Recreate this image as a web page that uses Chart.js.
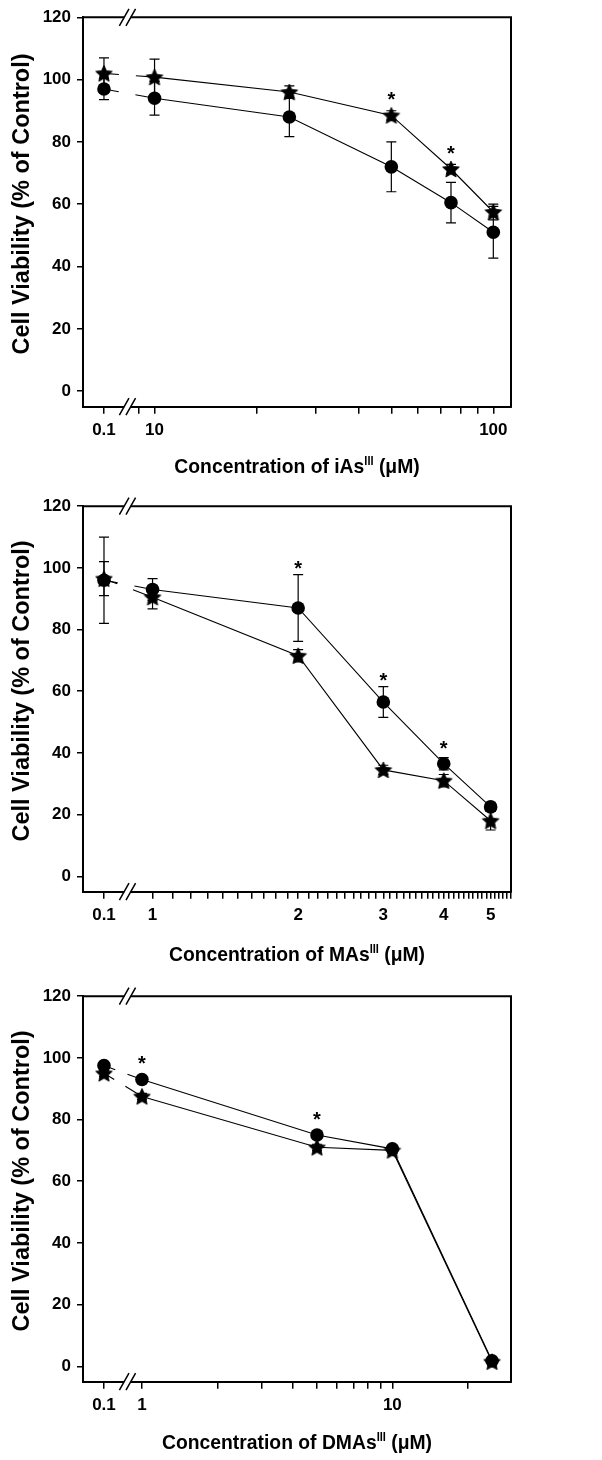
<!DOCTYPE html>
<html><head><meta charset="utf-8">
<script src="https://cdn.jsdelivr.net/npm/chart.js@4.4.0/dist/chart.umd.min.js"></script>
<style>
html,body{margin:0;padding:0;background:#fff;}
#wrap{position:relative;width:602px;height:1460px;overflow:hidden;background:#fff;}
canvas{position:absolute;left:0;}
</style></head><body>
<div id="wrap">
<canvas id="c1" width="602" height="490" style="top:0;width:602px;height:490px"></canvas>
<canvas id="c2" width="602" height="490" style="top:490px;width:602px;height:490px"></canvas>
<canvas id="c3" width="602" height="480" style="top:980px;width:602px;height:480px"></canvas>
</div>
<script>
// ---------------- DATA ----------------
// Panel A: iAs(III)
const iAsConc       = [0.1, 10, 25, 50, 75, 100];
const iAsCircle     = [97, 94, 88, 72, 60.5, 51];
const iAsCircleErr  = [3.4, 5.4, 6.3, 8, 6.5, 8.3];
const iAsStar       = [102, 100.8, 96, 88.5, 71.3, 57.5];
const iAsStarErr    = [5, 5.8, 2, 1.5, 1.5, 2.5];
const iAsSignificant = [3, 4];
const iAsTickValues = [0.1, 9, 10, 20, 30, 40, 50, 60, 70, 80, 90, 100];
const iAsTickLabels = ['0.1', '', '10', '', '', '', '', '', '', '', '', '100'];

// Panel B: MAs(III)
const MAsConc       = [0.1, 1, 2, 3, 4, 5];
const MAsCircle     = [96, 93, 87, 56.5, 36.5, 22.5];
const MAsCircleErr  = [14, 3.5, 10.8, 5, 2, 1.5];
const MAsStar       = [96.5, 90.5, 71.5, 34.5, 31, 18];
const MAsStarErr    = [5.5, 3.8, 2, 1.5, 2, 3];
const MAsSignificant = [2, 3, 4];
const MAsTickValues = [0.1, 1, 1.1, 1.2, 1.3, 1.4, 1.5, 1.6, 1.7, 1.8, 1.9,
  2, 2.1, 2.2, 2.3, 2.4, 2.5, 2.6, 2.7, 2.8, 2.9,
  3, 3.1, 3.2, 3.3, 3.4, 3.5, 3.6, 3.7, 3.8, 3.9,
  4, 4.1, 4.2, 4.3, 4.4, 4.5, 4.6, 4.7, 4.8, 4.9,
  5, 5.1, 5.2, 5.3, 5.4, 5.5];
const MAsTickLabels = ['0.1', '1', '', '', '', '', '', '', '', '', '',
  '2', '', '', '', '', '', '', '', '', '',
  '3', '', '', '', '', '', '', '', '', '',
  '4', '', '', '', '', '', '', '', '', '',
  '5', '', '', '', '', ''];

// Panel C: DMAs(III)
const DMAsConc      = [0.1, 1, 5, 10, 25];
const DMAsCircle    = [97.5, 93, 75, 70.5, 1.8];
const DMAsCircleErr = [1, 1, 1, 1, 1];
const DMAsStar      = [95, 87.5, 71, 70, 1.5];
const DMAsStarErr   = [1, 1, 1, 1, 1];
const DMAsSignificant = [1, 2];
const DMAsTickValues = [0.1, 1, 2, 3, 4, 5, 6, 7, 8, 9, 10, 20];
const DMAsTickLabels = ['0.1', '1', '', '', '', '', '', '', '', '', '10', ''];

const yTickValues = [0, 20, 40, 60, 80, 100, 120];
const yTitle = 'Cell Viability (% of Control)';

// ---------------- STYLE ----------------
const FONT = '"Liberation Sans", Arial, Helvetica, sans-serif';

function starImage(r) {
  const size = Math.ceil(2 * r + 2);
  const c = document.createElement('canvas');
  c.width = size; c.height = size;
  const g = c.getContext('2d');
  const cx = size / 2, cy = size / 2 + r * 0.09;
  g.beginPath();
  for (let k = 0; k < 10; k++) {
    const rr = k % 2 === 0 ? r : r * 0.48;
    const a = -Math.PI / 2 + k * Math.PI / 5;
    const px = cx + rr * Math.cos(a), py = cy + rr * Math.sin(a);
    if (k === 0) g.moveTo(px, py); else g.lineTo(px, py);
  }
  g.closePath();
  g.fillStyle = '#000';
  g.fill();
  g.strokeStyle = '#000';
  g.lineWidth = 0.8;
  g.stroke();
  return c;
}
const STAR = starImage(8.8);

// ---------------- CUSTOM BROKEN LOG SCALE ----------------
class BrokenLogScale extends Chart.Scale {
  determineDataLimits() {
    this.min = this.options.tMin;
    this.max = this.options.tMax;
  }
  buildTicks() {
    return this.options.tickValues.map(v => ({ value: v }));
  }
  transformValue(v) {
    const o = this.options;
    return v <= o.controlValue ? o.controlPos : Math.log10(v);
  }
  getPixelForValue(v) {
    if (v === null || v === undefined || isNaN(v)) return NaN;
    return this.getPixelForDecimal((this.transformValue(v) - this.min) / (this.max - this.min));
  }
  getValueForPixel(p) {
    return Math.pow(10, this.min + this.getDecimalForPixel(p) * (this.max - this.min));
  }
  getLabelForValue(v) { return String(v); }
}
BrokenLogScale.id = 'brokenLog';
BrokenLogScale.defaults = {};
Chart.register(BrokenLogScale);

// ---------------- PLUGINS ----------------
const errorBarPlugin = {
  id: 'errorBars',
  beforeDatasetsDraw(chart) {
    const { ctx } = chart;
    const y = chart.scales.y;
    ctx.save();
    ctx.strokeStyle = '#000';
    ctx.lineWidth = 1.2;
    chart.data.datasets.forEach((ds, di) => {
      if (!ds.errors) return;
      const meta = chart.getDatasetMeta(di);
      meta.data.forEach((pt, i) => {
        const e = ds.errors[i];
        if (!e) return;
        const v = ds.data[i].y;
        const y1 = y.getPixelForValue(v + e), y2 = y.getPixelForValue(v - e);
        ctx.beginPath();
        ctx.moveTo(pt.x, y1); ctx.lineTo(pt.x, y2);
        ctx.moveTo(pt.x - 5, y1); ctx.lineTo(pt.x + 5, y1);
        ctx.moveTo(pt.x - 5, y2); ctx.lineTo(pt.x + 5, y2);
        ctx.stroke();
      });
    });
    ctx.restore();
  }
};

const asteriskPlugin = {
  id: 'asterisks',
  afterDatasetsDraw(chart, args, opts) {
    const { ctx } = chart;
    const y = chart.scales.y;
    const fs = 20;
    ctx.save();
    ctx.fillStyle = '#000';
    ctx.font = 'bold ' + fs + 'px ' + FONT;
    ctx.textAlign = 'center';
    ctx.textBaseline = 'alphabetic';
    (opts.indices || []).forEach(i => {
      let anchor = Infinity, px = null;
      chart.data.datasets.forEach((ds, di) => {
        const pt = chart.getDatasetMeta(di).data[i];
        if (!pt) return;
        px = pt.x;
        const v = ds.data[i].y, e = (ds.errors && ds.errors[i]) || 0;
        anchor = Math.min(anchor, y.getPixelForValue(v + e) - 12, pt.y - 21);
      });
      if (px !== null) ctx.fillText('*', px, anchor + 0.6 * fs);
    });
    ctx.restore();
  }
};

const framePlugin = {
  id: 'frame',
  afterDraw(chart, args, opts) {
    const { ctx, chartArea: a } = chart;
    const x = chart.scales.x;
    const bx = x.getPixelForValue(opts.controlValue) + opts.breakOffset;
    ctx.save();
    ctx.strokeStyle = '#000';
    ctx.lineWidth = 2;
    ctx.beginPath();
    ctx.moveTo(a.left, a.top);
    ctx.lineTo(a.right, a.top);
    ctx.lineTo(a.right, a.bottom + 1);
    ctx.stroke();
    [a.top, a.bottom].forEach(yy => {
      ctx.fillStyle = '#fff';
      ctx.fillRect(bx - 3.3, yy - 2, 6.6, 4);
      ctx.lineWidth = 1.5;
      ctx.beginPath();
      [-3.3, 3.3].forEach(dx => {
        ctx.moveTo(bx + dx - 4.8, yy + 8.5);
        ctx.lineTo(bx + dx + 4.8, yy - 8.5);
      });
      ctx.stroke();
    });
    ctx.restore();
  }
};

const titlePlugin = {
  id: 'titles',
  afterDraw(chart, args, opts) {
    const { ctx, chartArea: a } = chart;
    ctx.save();
    ctx.fillStyle = '#000';
    const big = 'bold ' + opts.xSize + 'px ' + FONT;
    const sup = 'bold ' + Math.round(opts.xSize * 0.55) + 'px ' + FONT;
    const parts = opts.xParts;
    let total = 0;
    const widths = parts.map(p => {
      ctx.font = p.sup ? sup : big;
      const w = ctx.measureText(p.t).width;
      total += w;
      return w;
    });
    const cx = (a.left + a.right) / 2;
    const base = a.bottom + opts.xOffset;
    ctx.translate(cx, base);
    ctx.scale(opts.xScaleX, 1);
    let xx = -total / 2;
    ctx.textAlign = 'left';
    ctx.textBaseline = 'alphabetic';
    parts.forEach((p, i) => {
      ctx.font = p.sup ? sup : big;
      ctx.fillText(p.t, xx, p.sup ? -opts.xSize * 0.36 : 0);
      xx += widths[i];
    });
    ctx.restore();
    ctx.save();
    ctx.fillStyle = '#000';
    ctx.font = 'bold ' + opts.ySize + 'px ' + FONT;
    ctx.translate(opts.yX, (a.top + a.bottom) / 2 + opts.yShift);
    ctx.rotate(-Math.PI / 2);
    ctx.textAlign = 'center';
    ctx.textBaseline = 'middle';
    ctx.fillText(yTitle, 0, 0);
    ctx.restore();
  }
};

// ---------------- PANEL BUILDER ----------------
function makePanel(id, p) {
  const dashFirst = ctx => (ctx.p0DataIndex === 0 ? p.dash : undefined);
  const lineCommon = {
    borderColor: '#000', borderWidth: 1.1, tension: 0, fill: false,
    segment: { borderDash: dashFirst }
  };
  new Chart(document.getElementById(id), {
    type: 'line',
    data: {
      datasets: [
        Object.assign({
          label: 'circle',
          data: p.conc.map((c, i) => ({ x: c, y: p.circle[i] })),
          errors: p.circleErr,
          pointStyle: 'circle', pointRadius: 6.8, pointBackgroundColor: '#000',
          pointBorderColor: '#000', pointBorderWidth: 0
        }, lineCommon),
        Object.assign({
          label: 'star',
          data: p.conc.map((c, i) => ({ x: c, y: p.star[i] })),
          errors: p.starErr,
          pointStyle: STAR, pointRadius: 8,
          pointBackgroundColor: '#000', pointBorderColor: '#000'
        }, lineCommon)
      ]
    },
    options: {
      responsive: false, animation: false, devicePixelRatio: 1,
      layout: { padding: { top: p.padTop, right: 91, bottom: 0, left: 0 } },
      plugins: {
        legend: { display: false }, tooltip: { enabled: false },
        asterisks: { indices: p.sig },
        frame: { controlValue: 0.1, breakOffset: 23.5 },
        titles: { xParts: p.xParts, xSize: 21, xScaleX: 0.92, xOffset: p.xOffset,
                  ySize: 23.5, yX: 23, yShift: -8 }
      },
      scales: {
        x: {
          type: 'brokenLog',
          tMin: p.tMin, tMax: p.tMax, controlValue: 0.1, controlPos: p.controlPos,
          tickValues: p.tickValues,
          afterFit: s => { s.height = p.xHeight; },
          grid: { display: true, drawOnChartArea: false, drawTicks: true, tickLength: 7,
                  color: '#000', lineWidth: 1.5 },
          border: { display: true, color: '#000', width: 2 },
          ticks: { autoSkip: false, maxRotation: 0, minRotation: 0, padding: 6, color: '#000',
                   font: { family: FONT, size: 17, weight: 'bold' },
                   callback: (v, i) => p.tickLabels[i] }
        },
        y: {
          type: 'linear', min: -5, max: 120,
          afterBuildTicks: s => { s.ticks = yTickValues.map(v => ({ value: v })); },
          afterFit: s => { s.width = 83; },
          grid: { display: true, drawOnChartArea: false, drawTicks: true, tickLength: 6,
                  color: '#000', lineWidth: 1.5 },
          border: { display: true, color: '#000', width: 2 },
          ticks: { padding: 6, color: '#000', font: { family: FONT, size: 17, weight: 'bold' } }
        }
      }
    },
    plugins: [errorBarPlugin, asteriskPlugin, framePlugin, titlePlugin]
  });
}

makePanel('c1', {
  conc: iAsConc, circle: iAsCircle, circleErr: iAsCircleErr, star: iAsStar, starErr: iAsStarErr,
  sig: iAsSignificant, tickValues: iAsTickValues, tickLabels: iAsTickLabels,
  tMin: 0.7888, tMax: 2.0522, controlPos: 0.8507, padTop: 17.3, xHeight: 83.3, xOffset: 66,
  dash: [15, 17, 60],
  xParts: [{ t: 'Concentration of iAs' }, { t: 'III', sup: true }, { t: ' (\u03BCM)' }]
});
makePanel('c2', {
  conc: MAsConc, circle: MAsCircle, circleErr: MAsCircleErr, star: MAsStar, starErr: MAsStarErr,
  sig: MAsSignificant, tickValues: MAsTickValues, tickLabels: MAsTickLabels,
  tMin: -0.1438, tMax: 0.7411, controlPos: -0.1004, padTop: 12.3, xHeight: 88.3, xOffset: 69,
  dash: [14, 17, 60],
  xParts: [{ t: 'Concentration of MAs' }, { t: 'III', sup: true }, { t: ' (\u03BCM)' }]
});
makePanel('c3', {
  conc: DMAsConc, circle: DMAsCircle, circleErr: DMAsCircleErr, star: DMAsStar, starErr: DMAsStarErr,
  sig: DMAsSignificant, tickValues: DMAsTickValues, tickLabels: DMAsTickLabels,
  tMin: -0.2354, tMax: 1.4737, controlPos: -0.1516, padTop: 12.3, xHeight: 78.3, xOffset: 67,
  dash: [12, 13, 60],
  xParts: [{ t: 'Concentration of DMAs' }, { t: 'III', sup: true }, { t: ' (\u03BCM)' }]
});
</script>
</body></html>
